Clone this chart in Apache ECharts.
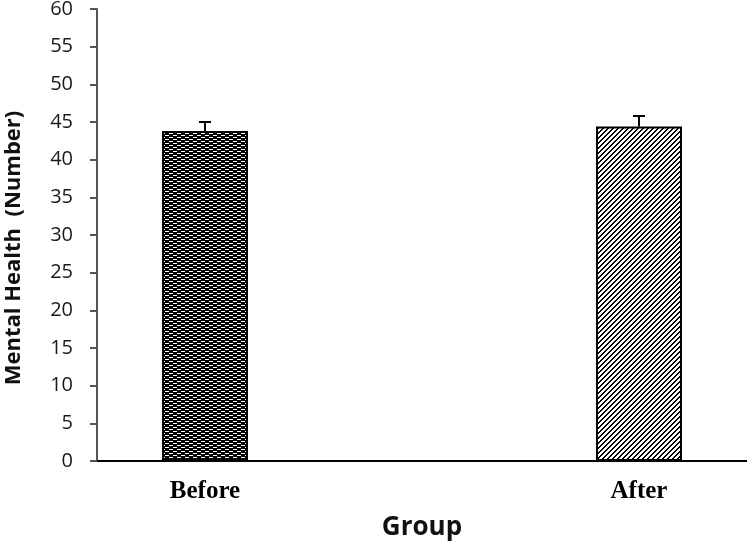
<!DOCTYPE html>
<html>
<head>
<meta charset="utf-8">
<script src="https://cdn.jsdelivr.net/npm/echarts@6/dist/echarts.min.js"></script>
<style>
html, body { margin: 0; padding: 0; background: #fff; }
#chart { width: 747px; height: 550px; }
</style>
</head>
<body>
<div id="chart"></div>
<script>
// data
var groups = ['Before', 'After'];
var means = [43.8, 44.4];
var errors = [1.2, 1.4];
var yTicks = { min: 0, max: 60, step: 5 };

// fill patterns made on small canvases
function makeTile(w, h, isBlack) {
    var c = document.createElement('canvas');
    c.width = w;
    c.height = h;
    var ctx = c.getContext('2d');
    var img = ctx.createImageData(w, h);
    for (var y = 0; y < h; y++) {
        for (var x = 0; x < w; x++) {
            var v = isBlack(x, y) ? 0 : 255;
            var i = (y * w + x) * 4;
            img.data[i] = v; img.data[i + 1] = v; img.data[i + 2] = v; img.data[i + 3] = 255;
        }
    }
    ctx.putImageData(img, 0, 0);
    return c;
}
// brick of small white dashes on black
var brick = makeTile(8, 4, function(x, y) {
    if (y === 1 && x >= 1 && x <= 4) return false;
    if (y === 3 && (x >= 5 || x === 0)) return false;
    return true;
});
// diagonal stripes going up to the right
var stripes = makeTile(5, 5, function(x, y) {
    return ((x + y) % 5) < 2;
});
var fills = [brick, stripes];

var chart = echarts.init(document.getElementById('chart'));

var barData = [];
for (var i = 0; i < groups.length; i++) {
    barData.push({
        value: means[i],
        itemStyle: {
            color: { image: fills[i], repeat: 'repeat' },
            borderColor: '#000',
            borderWidth: 2
        }
    });
}
var errData = [];
for (var j = 0; j < groups.length; j++) {
    errData.push([j, means[j], means[j] + errors[j]]);
}

var option = {
    animation: false,
    grid: [
        { left: 97, right: 0, top: 9, bottom: 89, outerBoundsMode: 'none' },
        // wider grid so the two bars sit where they do in the picture
        { left: -12, right: -109, top: 9, bottom: 89, outerBoundsMode: 'none' }
    ],
    xAxis: [{
        gridIndex: 0,
        type: 'category',
        data: [''],
        name: 'Group',
        nameLocation: 'middle',
        nameGap: 54,
        nameTextStyle: { fontFamily: 'Open Sans', fontWeight: 'bold', fontSize: 26, color: '#111' },
        axisLine: { lineStyle: { color: '#000', width: 2 } },
        axisTick: { show: false },
        axisLabel: { show: false }
    }, {
        gridIndex: 1,
        type: 'category',
        data: groups,
        axisLine: { show: false },
        axisTick: { show: false },
        axisLabel: {
            margin: 18,
            fontFamily: 'Liberation Serif',
            fontWeight: 'bold',
            fontSize: 25,
            color: '#000'
        }
    }],
    yAxis: [{
        gridIndex: 0,
        type: 'value',
        min: yTicks.min,
        max: yTicks.max,
        interval: yTicks.step,
        name: 'Mental Health  (Number)',
        nameLocation: 'middle',
        nameGap: 72,
        nameTextStyle: { fontFamily: 'Open Sans', fontWeight: 'bold', fontSize: 22, color: '#111', padding: [0, 26, 0, 0] },
        axisLine: { show: true, lineStyle: { color: '#555', width: 2 } },
        axisTick: { show: true, length: 7, lineStyle: { color: '#555', width: 2 } },
        splitLine: { show: false },
        axisLabel: { margin: 24, fontFamily: 'Open Sans', fontSize: 20, color: '#1a1a1a' }
    }, {
        gridIndex: 1,
        type: 'value',
        min: yTicks.min,
        max: yTicks.max,
        show: false,
        splitLine: { show: false }
    }],
    series: [{
        type: 'bar',
        xAxisIndex: 1,
        yAxisIndex: 1,
        barWidth: 86,
        data: barData
    }, {
        type: 'custom',
        xAxisIndex: 1,
        yAxisIndex: 1,
        data: errData,
        z: 3,
        renderItem: function(params, api) {
            var lo = api.coord([api.value(0), api.value(1)]);
            var hi = api.coord([api.value(0), api.value(2)]);
            var cap = 6;
            var style = { stroke: '#000', lineWidth: 2 };
            return {
                type: 'group',
                children: [
                    { type: 'line', shape: { x1: lo[0], y1: lo[1], x2: hi[0], y2: hi[1] }, style: style },
                    { type: 'line', shape: { x1: hi[0] - cap, y1: hi[1], x2: hi[0] + cap, y2: hi[1] }, style: style }
                ]
            };
        }
    }]
};
chart.setOption(option);
</script>
</body>
</html>
